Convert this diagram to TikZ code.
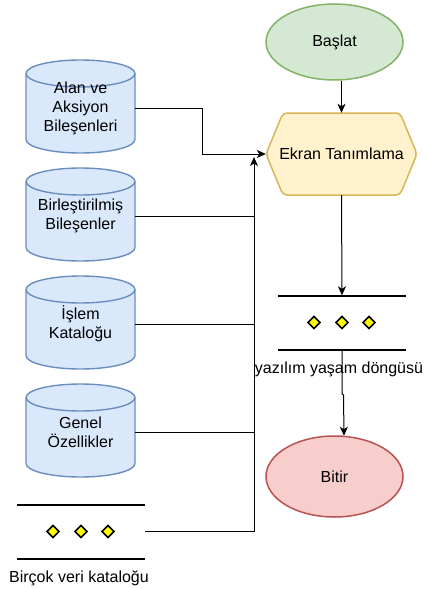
\documentclass[tikz,border=0pt]{standalone}
\usepackage{fontspec}
\setmainfont{Liberation Sans}
\usetikzlibrary{calc,arrows.meta,shapes.geometric}
\definecolor{cylfill}{HTML}{DAE8FC}
\definecolor{cylline}{HTML}{6C8EBF}
\definecolor{startfill}{HTML}{D5E8D4}
\definecolor{startline}{HTML}{82B366}
\definecolor{hexfill}{HTML}{FFF2CC}
\definecolor{hexline}{HTML}{D6B656}
\definecolor{endfill}{HTML}{F8CECC}
\definecolor{endline}{HTML}{B85450}
\definecolor{gemyellow}{HTML}{FFFF00}

% database cylinder drawn around a centre coordinate (109 x 93, cap radius 13.5)
\newcommand\drawcyl[1]{%
  \path[cylbody] ($(#1)+(-54.5,-33)$) -- ($(#1)+(-54.5,33)$)
    arc[start angle=180,end angle=0,x radius=54.5,y radius=13.5]
    -- ($(#1)+(54.5,-33)$)
    arc[start angle=360,end angle=180,x radius=54.5,y radius=13.5] -- cycle;
  \draw[cylline,line width=1.4pt] ($(#1)+(-54.5,-33)$)
    arc[start angle=180,end angle=0,x radius=54.5,y radius=13.5];}

% loop marker: two bars with three yellow gems between them
\newcommand\drawloop[1]{%
  \draw[bar] ($(#1)+(-64,-27)$) -- ($(#1)+(64,-27)$);
  \draw[bar] ($(#1)+(-64,27)$) -- ($(#1)+(64,27)$);
  \foreach \dx in {-28,0,27}{\node[gem] at ($(#1)+(\dx,0)$) {};}}

\begin{document}
\begin{tikzpicture}[x=1pt,y=-1pt,
  every node/.style={font=\fontsize{16}{19}\selectfont,text=black},
  cylbody/.style={fill=cylfill,draw=cylline,line width=1.4pt},
  cylbox/.style={minimum width=109pt,minimum height=93pt,inner sep=0pt,align=center},
  loopbox/.style={minimum width=128pt,minimum height=54pt,inner sep=0pt},
  bar/.style={line width=2pt,black},
  gem/.style={rectangle,rotate=45,minimum size=8.5pt,inner sep=0pt,
    fill=gemyellow,draw=black,line width=1.6pt},
  link/.style={draw=black,line width=1pt},
  arr/.style={link,-{Stealth[length=9pt,width=8pt,inset=2.5pt]}},
]
\useasboundingbox[fill=white] (0,0) rectangle (426,589);

% start / end terminators
\node[ellipse,minimum width=137pt,minimum height=76pt,inner sep=0pt,
  fill=startfill,draw=startline,line width=1.5pt] (start) at (334.5,42) {Başlat};
\node[ellipse,minimum width=137pt,minimum height=81pt,inner sep=0pt,
  fill=endfill,draw=endline,line width=1.5pt] (end) at (334.5,476.5) {Bitir};

% screen definition hexagon
\coordinate (hexc) at (341.5,154);
\path[fill=hexfill,draw=hexline,line width=1.5pt,rounded corners=4pt]
  ($(hexc)+(-75.5,0)$) -- ($(hexc)+(-58.5,-41)$) -- ($(hexc)+(58.5,-41)$)
  -- ($(hexc)+(75.5,0)$) -- ($(hexc)+(58.5,41)$) -- ($(hexc)+(-58.5,41)$) -- cycle;
\node[minimum width=151pt,minimum height=82pt,inner sep=0pt] (hex) at (hexc) {Ekran Tanımlama};

% data sources
\coordinate (p1) at (80.5,106.5);
\coordinate (p2) at (80.5,214.5);
\coordinate (p3) at (80.5,322.5);
\coordinate (p4) at (80.5,430.5);
\drawcyl{p1}\drawcyl{p2}\drawcyl{p3}\drawcyl{p4}
\node[cylbox] (c1) at ($(p1)+(0,1.5)$) {Alan ve\\Aksiyon\\Bileşenleri};
\node[cylbox] (c2) at ($(p2)+(0,1.5)$) {Birleştirilmiş\\Bileşenler};
\node[cylbox] (c3) at ($(p3)+(0,1.5)$) {İşlem\\Kataloğu};
\node[cylbox] (c4) at ($(p4)+(0,1.5)$) {Genel\\Özellikler};

% loop markers
\coordinate (la) at (342,322.5);
\drawloop{la}
\node[loopbox] (loopA) at (la) {};
\node (loopAtext) at (339,369) {yazılım yaşam döngüsü};

\coordinate (lb) at (81,531.5);
\drawloop{lb}
\node[loopbox] (loopB) at (lb) {};
\node (loopBtext) at (79,578) {Birçok veri kataloğu};

% main flow
\draw[arr] (start.south -| hex.north) -- (hex.north);
\draw[arr] (hex.south) -- (loopA.north);
\draw[arr] (loopA.south) -- ++(0,44) -- ++(1.5,1.5) -- ($(end.north)+(9.5,0.5)$);

% collecting trunk into the screen definition
\coordinate (trunk) at (254,157);
\draw[arr] (c1.east) -- ++(67,0) |- (hex.west);
\draw[arr] (loopB.east) -| (trunk);
\draw[link] (c2.east) -- (c2.east -| trunk);
\draw[link] (c3.east) -- (c3.east -| trunk);
\draw[link] (c4.east) -- (c4.east -| trunk);
\end{tikzpicture}
\end{document}
